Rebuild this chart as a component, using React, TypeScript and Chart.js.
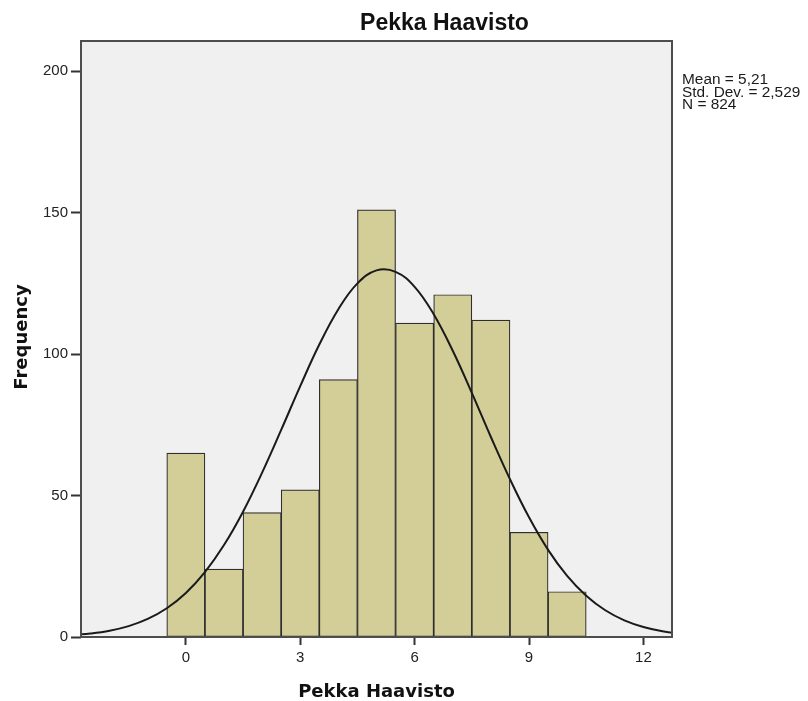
import React, { useEffect, useRef } from "react";
import { Chart, registerables } from "chart.js";

Chart.register(...registerables);

// ---- data ----
const binCenters = [0, 1, 2, 3, 4, 5, 6, 7, 8, 9, 10];
const frequencies = [65, 24, 44, 52, 91, 151, 111, 121, 112, 37, 16];

const curveX = [
  -3, -2.5, -2, -1.5, -1, -0.5, 0, 0.5, 1, 1.5, 2, 2.5, 3, 3.5, 4, 4.5, 5, 5.5,
  6, 6.5, 7, 7.5, 8, 8.5, 9, 9.5, 10, 10.5, 11, 11.5, 12, 12.5, 13,
];
const curveY = [
  0.67, 1.25, 2.23, 3.85, 6.38, 10.16, 15.57, 22.95, 32.5, 44.3, 58.1, 73.2,
  88.7, 103.4, 115.9, 125.0, 129.6, 129.1, 123.8, 114.1, 101.2, 86.3, 70.7,
  55.8, 42.3, 30.8, 21.6, 14.6, 9.45, 5.89, 3.54, 2.04, 1.13,
];

const xTicks = [0, 3, 6, 9, 12];
const yTicks = [0, 50, 100, 150, 200];
const xRange = [-2.75, 12.75];
const yRange = [0, 210.7];

const chartTitle = "Pekka Haavisto";
const xTitle = "Pekka Haavisto";
const yTitle = "Frequency";
const statLines = ["Mean = 5,21", "Std. Dev. = 2,529", "N = 824"];

const SANS = '"Liberation Sans", Arial, sans-serif';

const decorPlugin = {
  id: "decor",
  beforeDraw(chart: any) {
    const { ctx, chartArea } = chart;
    ctx.save();
    ctx.fillStyle = "#ffffff";
    ctx.fillRect(0, 0, chart.width, chart.height);
    ctx.fillStyle = "#f0f0f0";
    ctx.fillRect(
      chartArea.left,
      chartArea.top,
      chartArea.right - chartArea.left,
      chartArea.bottom - chartArea.top
    );
    ctx.restore();
  },
  afterDraw(chart: any) {
    const { ctx, chartArea } = chart;
    ctx.save();
    // frame
    ctx.strokeStyle = "#4d4d4d";
    ctx.lineWidth = 2;
    ctx.strokeRect(
      chartArea.left,
      chartArea.top,
      chartArea.right - chartArea.left,
      chartArea.bottom - chartArea.top
    );

    ctx.fillStyle = "#111111";
    // title
    ctx.font = `bold 23px ${SANS}`;
    ctx.textAlign = "center";
    ctx.textBaseline = "alphabetic";
    ctx.fillText(chartTitle, (chartArea.left + chart.width) / 2, 30);

    // x title
    ctx.font = 'bold 18px "DejaVu Sans", Verdana, sans-serif';
    ctx.fillText(xTitle, (chartArea.left + chartArea.right) / 2, 697);

    // y title
    ctx.save();
    ctx.translate(26.5, (chartArea.top + chartArea.bottom) / 2 - 2);
    ctx.rotate(-Math.PI / 2);
    ctx.fillText(yTitle, 0, 0);
    ctx.restore();

    // stats
    ctx.font = `14px ${SANS}`;
    ctx.textAlign = "left";
    ctx.fillStyle = "#1a1a1a";
    statLines.forEach((line, i) => {
      ctx.save();
      ctx.translate(chartArea.right + 10, 84 + i * 12.5);
      ctx.scale(1.1, 1);
      ctx.fillText(line, 0, 0);
      ctx.restore();
    });
    ctx.restore();
  },
};

export default function App() {
  const canvasRef = useRef<HTMLCanvasElement | null>(null);

  useEffect(() => {
    document.body.style.margin = "0";
    const canvas = canvasRef.current;
    if (!canvas) return;

    const barData = binCenters.map((x, i) => ({ x, y: frequencies[i] }));
    const curveData = curveX.map((x, i) => ({ x, y: curveY[i] }));

    const chart = new Chart(canvas, {
      type: "bar",
      data: {
        datasets: [
          {
            type: "line",
            data: curveData,
            borderColor: "#1a1a1a",
            borderWidth: 2,
            pointRadius: 0,
            tension: 0.4,
            fill: false,
            order: 1,
          } as any,
          {
            type: "bar",
            data: barData,
            backgroundColor: "#d3ce98",
            borderColor: "#2e2e2e",
            borderWidth: 1.2,
            borderSkipped: false,
            barPercentage: 1,
            categoryPercentage: 1,
            order: 2,
          } as any,
        ],
      },
      plugins: [decorPlugin],
      options: {
        responsive: false,
        devicePixelRatio: 1,
        animation: false,
        layout: { padding: { top: 41, right: 136, left: 0, bottom: 0 } },
        plugins: {
          legend: { display: false },
          tooltip: { enabled: false },
          title: { display: false },
        },
        scales: {
          x: {
            type: "linear",
            min: xRange[0],
            max: xRange[1],
            offset: false,
            border: { display: false },
            grid: {
              display: true,
              drawOnChartArea: false,
              drawTicks: true,
              tickLength: 8,
              tickWidth: 2,
              tickColor: "#333333",
              offset: false,
            },
            ticks: {
              padding: 4,
              color: "#222222",
              font: { family: SANS, size: 15 },
              maxRotation: 0,
              autoSkip: false,
              includeBounds: false,
            },
            afterBuildTicks: (scale: any) => {
              scale.ticks = xTicks.map((v) => ({ value: v }));
            },
            afterFit: (scale: any) => {
              scale.height = 64;
            },
          } as any,
          y: {
            type: "linear",
            min: yRange[0],
            max: yRange[1],
            border: { display: false },
            grid: {
              display: true,
              drawOnChartArea: false,
              drawTicks: true,
              tickLength: 10,
              tickWidth: 2,
              tickColor: "#333333",
            },
            ticks: {
              padding: 3,
              color: "#222222",
              font: { family: SANS, size: 15 },
              autoSkip: false,
              includeBounds: false,
            },
            afterBuildTicks: (scale: any) => {
              scale.ticks = yTicks.map((v) => ({ value: v }));
            },
            afterFit: (scale: any) => {
              scale.width = 81;
            },
          } as any,
        },
      },
    });

    return () => {
      chart.destroy();
    };
  }, []);

  return (
    <div style={{ position: "absolute", left: 0, top: 0, width: 808, height: 701 }}>
      <canvas ref={canvasRef} width={808} height={701} style={{ display: "block" }} />
    </div>
  );
}
